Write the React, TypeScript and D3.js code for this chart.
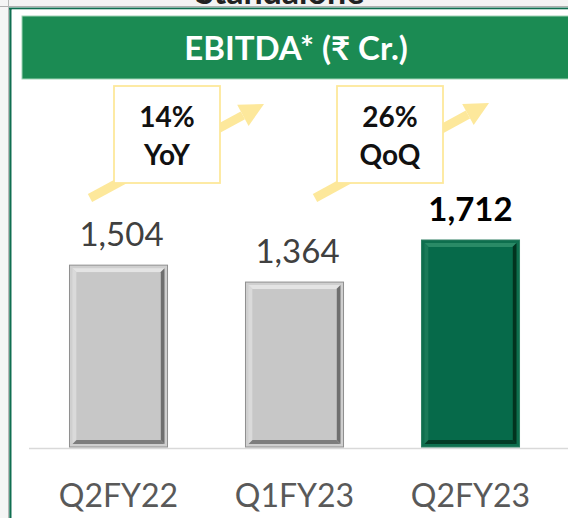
import React from "react";
import * as d3 from "d3";

const categories = ["Q2FY22", "Q1FY23", "Q2FY23"];
const values = [1504, 1364, 1712];
const valueLabels = ["1,504", "1,364", "1,712"];
const callouts = [
  { pct: "14%", kind: "YoY" },
  { pct: "26%", kind: "QoQ" },
];
const title = "EBITDA* (₹ Cr.)";
const topTitle = "Standalone";

const W = 568;
const H = 518;
const FONT = "Lato, 'Noto Sans', 'DejaVu Sans', sans-serif";

function Bar({ x, y, w, h, green }: { x: number; y: number; w: number; h: number; green: boolean }) {
  const c = green
    ? { outer: "#0e6f4e", stroke: "#2f7f62", top: "#2a8a66", left: "#1a7a58", right: "#02331f", bottom: "#033a25", face: "#066a4a" }
    : { outer: "#cfcfcf", stroke: "#8f8f8f", top: "#e4e4e4", left: "#dadada", right: "#6f6f6f", bottom: "#7d7d7d", face: "#c7c7c7" };
  const a = 3;
  const b = 7;
  const x0 = x + a, x1 = x + w - a, y0 = y + a, y1 = y + h - a;
  const ix0 = x + b, ix1 = x + w - b, iy0 = y + b, iy1 = y + h - b;
  const p = (pts: number[][]) => pts.map((q) => q.join(",")).join(" ");
  return (
    <g>
      <rect x={x} y={y} width={w} height={h} fill={c.outer} stroke={c.stroke} strokeWidth={1} />
      <polygon points={p([[x0, y0], [x1, y0], [ix1, iy0], [ix0, iy0]])} fill={c.top} />
      <polygon points={p([[x0, y0], [ix0, iy0], [ix0, iy1], [x0, y1]])} fill={c.left} />
      <polygon points={p([[x1, y0], [x1, y1], [ix1, iy1], [ix1, iy0]])} fill={c.right} />
      <polygon points={p([[x0, y1], [ix0, iy1], [ix1, iy1], [x1, y1]])} fill={c.bottom} />
      <rect x={ix0} y={iy0} width={ix1 - ix0} height={iy1 - iy0} fill={c.face} />
    </g>
  );
}

function Arrow({ x1, y1, x2, y2 }: { x1: number; y1: number; x2: number; y2: number }) {
  const ang = Math.atan2(y2 - y1, x2 - x1);
  const headLen = 24;
  const headHalf = 12;
  const bx = x2 - headLen * Math.cos(ang);
  const by = y2 - headLen * Math.sin(ang);
  const nx = -Math.sin(ang), ny = Math.cos(ang);
  const pts = [
    [x2, y2],
    [bx + nx * headHalf, by + ny * headHalf],
    [bx - nx * headHalf, by - ny * headHalf],
  ];
  return (
    <g>
      <line x1={x1} y1={y1} x2={bx} y2={by} stroke="#fde89b" strokeWidth={9} />
      <polygon points={pts.map((q) => q.join(",")).join(" ")} fill="#fde89b" />
    </g>
  );
}

export default function App() {
  const baseline = 447;
  const y = d3.scaleLinear().domain([0, 1712]).range([baseline, 240]);
  const x = d3.scaleBand<string>().domain(categories).range([30.5, 558.5]).paddingInner(0.443).paddingOuter(0.2215);
  const bw = x.bandwidth();

  const boxes = [
    { bx: 114, arrow: [90, 198, 264, 104] },
    { bx: 337, arrow: [315, 198, 489, 103] },
  ];

  return (
    <svg width={W} height={H} style={{ position: "absolute", left: 0, top: 0, background: "#fff" }} fontFamily={FONT}>
      {/* top strip */}
      <rect x={0} y={0} width={W} height={7} fill="#f3f3f3" />
      <rect x={0} y={0} width={9} height={H} fill="#f5f5f5" />
      <text x={280} y={4} textAnchor="middle" fontSize={34} fontWeight={700} fill="#222">{topTitle}</text>
      <line x1={0} y1={6.5} x2={W} y2={6.5} stroke="#b0b0b0" strokeWidth={1} />
      <line x1={8.5} y1={0} x2={8.5} y2={H} stroke="#b8b8b8" strokeWidth={1} />
      {/* frame */}
      <line x1={9} y1={8.5} x2={W} y2={8.5} stroke="#0f6e50" strokeWidth={2.2} />
      <line x1={10.5} y1={8} x2={10.5} y2={H} stroke="#0f6e50" strokeWidth={2.4} />
      <rect x={11.7} y={9.6} width={W} height={H} fill="#fff" />

      {/* header */}
      <rect x={22} y={16} width={W} height={63} fill="#1b8b53" stroke="#9fd4b6" strokeWidth={1} />
      <text x={296} y={60} textAnchor="middle" fontSize={33} fontWeight={700} fill="#fff">{title}</text>

      {/* arrows & callouts */}
      {callouts.map((c, i) => {
        const b = boxes[i];
        return (
          <g key={c.kind}>
            <Arrow x1={b.arrow[0]} y1={b.arrow[1]} x2={b.arrow[2]} y2={b.arrow[3]} />
            <rect x={b.bx} y={86} width={106} height={97} fill="#fff" stroke="#fde89b" strokeWidth={1.8} />
            <text x={b.bx + 53} y={127} textAnchor="middle" fontSize={28} fontWeight={700} fill="#111">{c.pct}</text>
            <text x={b.bx + 53} y={165} textAnchor="middle" fontSize={28} fontWeight={700} fill="#111">{c.kind}</text>
          </g>
        );
      })}

      {/* axis line */}
      <line x1={29} y1={448.5} x2={W} y2={448.5} stroke="#d9d9d9" strokeWidth={1.5} />

      {/* bars */}
      {categories.map((cat, i) => {
        const bx = x(cat)!;
        const by = y(values[i]);
        const last = i === categories.length - 1;
        return (
          <g key={cat}>
            <Bar x={bx} y={by} w={bw} h={baseline - by} green={last} />
            <text
              x={bx + bw / 2 + (last ? 0 : 3)}
              y={by - 19}
              textAnchor="middle"
              fontSize={33}
              fontWeight={last ? 700 : 400}
              fill={last ? "#000" : "#404040"}
            >
              {valueLabels[i]}
            </text>
            <text x={bx + bw / 2} y={507} textAnchor="middle" fontSize={32} fill="#595959">
              {cat}
            </text>
          </g>
        );
      })}
    </svg>
  );
}
